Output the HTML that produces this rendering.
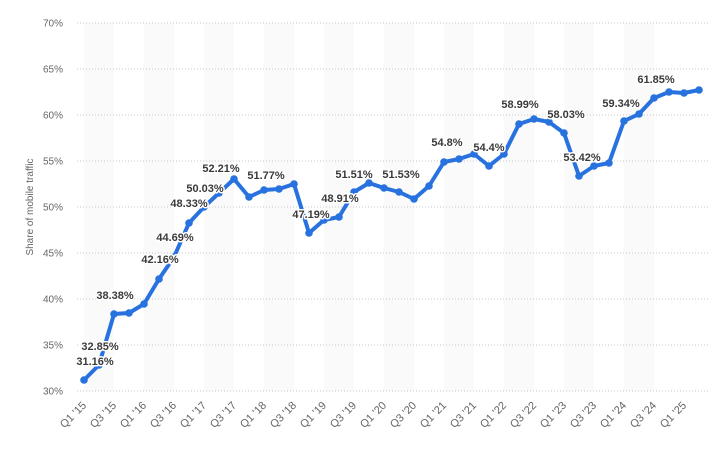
<!DOCTYPE html>
<html><head><meta charset="utf-8"><style>
html,body{margin:0;padding:0;background:#fff;}
svg{display:block;font-family:"Liberation Sans",sans-serif;}
.lbl{font-size:11px;font-weight:bold;fill:#3a3a3a;paint-order:stroke;stroke:#fff;stroke-width:3px;stroke-linejoin:round;text-anchor:middle;}
.yt{font-size:10px;fill:#666;text-anchor:end;}
.xt{font-size:11px;fill:#666;text-anchor:end;}
</style></head><body>
<svg width="722" height="464" viewBox="0 0 722 464" xmlns="http://www.w3.org/2000/svg">
<g id="bands" fill="#fafafa"></g>
<g id="grid" stroke="#c8c8c8" stroke-width="1" stroke-dasharray="1,2"></g>
<g id="yt"></g>
<text x="33" y="207" transform="rotate(-90 33 207)" font-size="10" fill="#666" text-anchor="middle">Share of mobile traffic</text>
<polyline id="line" fill="none" stroke="#2872e0" stroke-width="4" stroke-linejoin="round" stroke-linecap="round"/>
<g id="dots" fill="#2872e0"></g>
<g id="labels"></g>
<g id="xt"></g>
</svg>
<script>
var ys=[380,365,314,313,304,279,257,223,207,193,179,197,190,189,184,233,220,217,192,183,188,192,199,186,162,159,154,166,154,124,119,122,133,176,166,163,121,114,98,92,93,90];
var ns="http://www.w3.org/2000/svg";
function el(t,a,p,txt){var e=document.createElementNS(ns,t);for(var k in a)e.setAttribute(k,a[k]);if(txt)e.textContent=txt;document.getElementById(p).appendChild(e);return e;}
for(var i=0;i<40;i+=4){el('rect',{x:84+15*i,y:23,width:30,height:368},'bands');}
for(var j=0;j<9;j++){var y=23+46*j;el('line',{x1:77,x2:708,y1:y,y2:y},'grid');el('text',{x:63,y:y+3.5,'class':'yt'},'yt',(70-5*j)+'%');}
var pts=[];for(var i=0;i<ys.length;i++){var x=84+15*i;pts.push(x+','+ys[i]);el('circle',{cx:x,cy:ys[i],r:3.8},'dots');}
document.getElementById('line').setAttribute('points',pts.join(' '));
var L=[[95,361,'31.16%'],[100,346,'32.85%'],[115,295,'38.38%'],[160,259,'42.16%'],[175,237,'44.69%'],[189,203,'48.33%'],[205,188,'50.03%'],[221,168,'52.21%'],[266,175,'51.77%'],[311,214,'47.19%'],[340,198,'48.91%'],[354,174,'51.51%'],[401,174,'51.53%'],[447,142,'54.8%'],[489,147,'54.4%'],[520,104,'58.99%'],[566,114,'58.03%'],[582,157,'53.42%'],[621,103,'59.34%'],[656,79,'61.85%']];
L.forEach(function(l){el('text',{x:l[0],y:l[1]+4,'class':'lbl'},'labels',l[2]);});
for(var i=0;i<=40;i+=2){var x=84+15*i+3,y=406;var yr=15+Math.floor(i/4);var q=(i%4==0)?'Q1':'Q3';el('text',{x:x,y:y,'class':'xt',transform:'rotate(-45 '+x+' '+y+')'},'xt',q+" '"+yr);}
</script>
</body></html>
